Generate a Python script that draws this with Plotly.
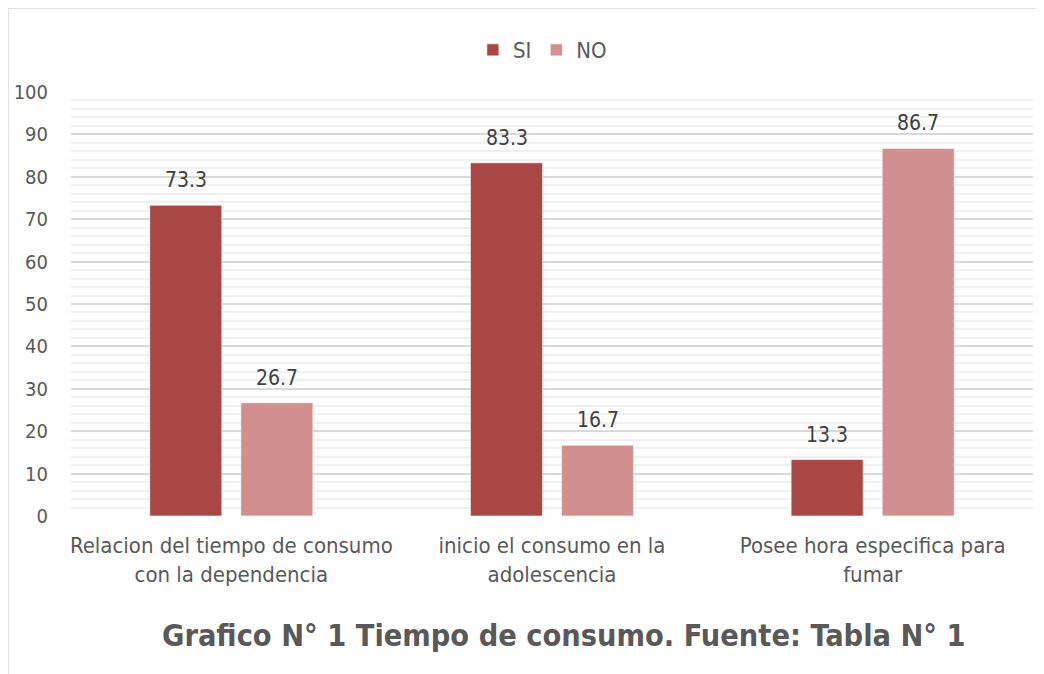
import plotly.graph_objects as go

categories = ["Relacion del tiempo de consumo<br>con la dependencia",
              "inicio el consumo en la<br>adolescencia",
              "Posee hora especifica para<br>fumar"]
si_values = [73.3, 83.3, 13.3]
no_values = [26.7, 16.7, 86.7]
y_ticks = [0, 10, 20, 30, 40, 50, 60, 70, 80, 90, 100]
title_text = "Grafico N° 1 Tiempo de consumo. Fuente: Tabla N° 1"

FONT = "DejaVu Sans Condensed, Liberation Sans Narrow, sans-serif"
C_SI = "#a94745"
C_NO = "#d18f8f"

fig = go.Figure()
fig.add_trace(go.Bar(name="SI", x=categories, y=si_values, marker_color=C_SI,
                     marker_line=dict(color="rgba(255,255,255,0.6)", width=1)))
fig.add_trace(go.Bar(name="NO", x=categories, y=no_values, marker_color=C_NO,
                     marker_line=dict(color="rgba(255,255,255,0.6)", width=1)))

# data labels
for series, shift in ((si_values, -45.5), (no_values, 45.5)):
    for c, v in zip(categories, series):
        fig.add_annotation(x=c, y=v, text=f"{v:.1f}", showarrow=False,
                           xshift=shift, yshift=25, yanchor="middle",
                           font=dict(family=FONT, size=21, color="#404040"))

# title
fig.add_annotation(x=0.5125, y=-0.283, xref="paper", yref="paper", text=f"<b>{title_text}</b>",
                   showarrow=False, xanchor="center", yanchor="middle",
                   font=dict(family=FONT, size=30.4, color="#595959"))

# chart border (left and top visible)
fig.add_shape(type="line", xref="paper", yref="paper", x0=-0.0655, x1=-0.0655, y0=-0.5, y1=1.198,
              line=dict(color="#d9d9d9", width=1.5))
fig.add_shape(type="line", xref="paper", yref="paper", x0=-0.0655, x1=1.1, y0=1.198, y1=1.198,
              line=dict(color="#d9d9d9", width=1.5))

fig.update_layout(
    width=1036, height=666,
    margin=dict(l=63, r=11, t=84, b=158, autoexpand=False),
    paper_bgcolor="white", plot_bgcolor="white",
    barmode="group", bargap=0.432, bargroupgap=0.209,
    font=dict(family=FONT, color="#595959"),
    legend=dict(orientation="h", x=0.49, y=1.099, xanchor="center", yanchor="middle",
                font=dict(family=FONT, size=22, color="#595959"), itemwidth=30,
                bgcolor="rgba(0,0,0,0)"),
    showlegend=True,
)
fig.update_yaxes(range=[0, 100], tickvals=y_ticks, showgrid=True, gridcolor="#d9d9d9", gridwidth=1.5,
                 zeroline=False, showline=False, ticks="", ticklabelstandoff=22, automargin=False,
                 tickfont=dict(family=FONT, size=20, color="#595959"),
                 minor=dict(dtick=2, showgrid=True, gridcolor="#f0f0f0", gridwidth=1.5))
fig.update_xaxes(showgrid=False, zeroline=False, showline=False, ticks="", ticklabelstandoff=14,
                 automargin=False, tickfont=dict(family=FONT, size=22, color="#595959"))

fig.write_html("out.html")
